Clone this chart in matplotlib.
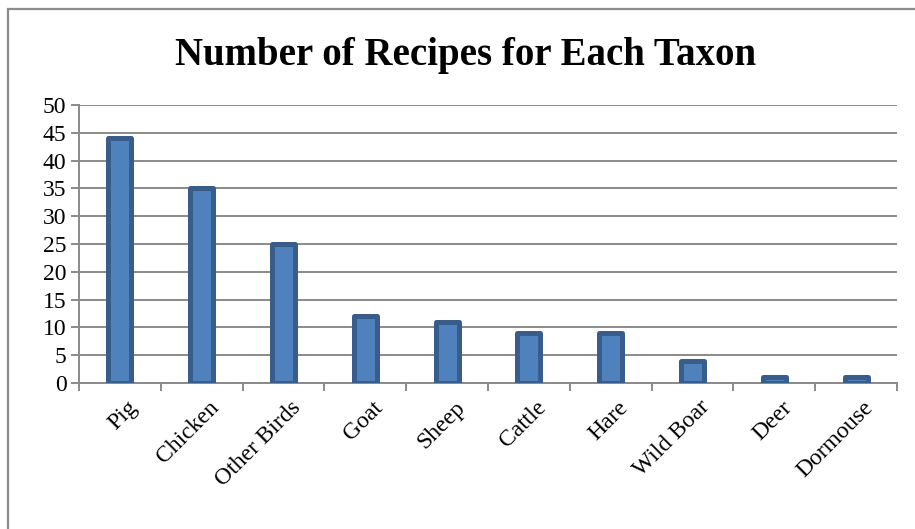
import numpy as np
import matplotlib.pyplot as plt
import matplotlib.transforms as mtransforms
from matplotlib.patches import Rectangle

taxa = ['Pig', 'Chicken', 'Other Birds', 'Goat', 'Sheep', 'Cattle',
        'Hare', 'Wild Boar', 'Deer', 'Dormouse']
recipes = [44, 35, 25, 12, 11, 9, 9, 4, 1, 1]
y_ticks = [0, 5, 10, 15, 20, 25, 30, 35, 40, 45, 50]

plt.rcParams['font.family'] = ['Liberation Serif', 'DejaVu Serif']

fig = plt.figure(figsize=(9.15, 5.29), dpi=100)
ax = fig.add_axes([0.0863, 0.276, 0.8940, 0.5255])

# chart frame (cut off at the right and bottom)
fig.patches.append(Rectangle((7.5 / 915, -0.1), 1.2, 1 - 8.5 / 529 + 0.1,
                             transform=fig.transFigure, fill=False,
                             edgecolor='#8c8c8c', linewidth=1.6))

x = np.arange(len(taxa))
ax.bar(x, recipes, width=0.28, color='#4F81BD', edgecolor='#385D8A',
       linewidth=3.6, joinstyle='round', zorder=3)

ax.set_xlim(-0.5, len(taxa) - 0.5)
ax.set_ylim(0, 50)
ax.set_yticks(y_ticks)
ax.yaxis.grid(True, color='#8a8a8a', linewidth=1.4)
ax.set_axisbelow(True)

for side in ['top', 'right']:
    ax.spines[side].set_visible(False)
ax.spines['left'].set_color('#8a8a8a')
ax.spines['bottom'].set_color('#8a8a8a')
ax.spines['left'].set_linewidth(1.4)
ax.spines['bottom'].set_linewidth(1.4)

# tick marks sit between categories
ax.set_xticks(x)
ax.set_xticks(np.arange(-0.5, len(taxa)), minor=True)
ax.tick_params(axis='x', which='major', length=0, pad=10)
ax.tick_params(axis='x', which='minor', length=6, width=1.4, color='#8a8a8a')
ax.tick_params(axis='y', length=6, width=1.4, color='#8a8a8a', labelsize=17, pad=3)
ax.set_xticklabels(taxa, rotation=45, ha='right', rotation_mode='anchor', fontsize=17)

# nudge the slanted labels a little to the right
shift = mtransforms.ScaledTranslation(7 / 100, 0, fig.dpi_scale_trans)
for lbl in ax.get_xticklabels():
    lbl.set_transform(lbl.get_transform() + shift)

fig.text(0.509, 0.878, 'Number of Recipes for Each Taxon', ha='center',
         va='baseline', fontsize=28, fontweight='bold')

fig.savefig('out.png', dpi=100)
